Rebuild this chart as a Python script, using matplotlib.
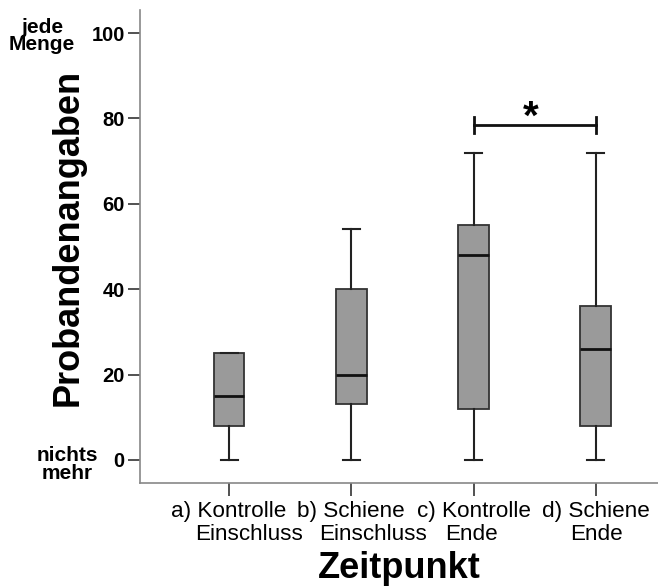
import matplotlib
matplotlib.use('Agg')
import matplotlib.pyplot as plt
from matplotlib.transforms import blended_transform_factory

plt.rcParams['font.family'] = ['Liberation Sans', 'DejaVu Sans']

# five-number summaries
groups = ['a', 'b', 'c', 'd']
whislo = [0, 0, 0, 0]
q1 = [8, 13, 12, 8]
med = [15, 20, 48, 26]
q3 = [25, 40, 55, 36]
whishi = [25, 54, 72, 72]

label_line1 = ['a) Kontrolle', 'b) Schiene', 'c) Kontrolle', 'd) Schiene']
label_line2 = ['Einschluss', 'Einschluss', 'Ende', 'Ende']
line2_shift = [20, 22, -2, 1]   # px, second line not centred in the original

yticks = [0, 20, 40, 60, 80, 100]
sig_pair = (3, 4)
sig_y = 78.5

fig = plt.figure(figsize=(6.58, 5.88), dpi=100)
ax = fig.add_axes([140/658, 1-483/588, 518/658, 473/588])

stats = []
for i in range(len(groups)):
    stats.append({'whislo': whislo[i], 'q1': q1[i], 'med': med[i],
                  'q3': q3[i], 'whishi': whishi[i], 'fliers': []})

ax.bxp(stats, positions=[1, 2, 3, 4], widths=0.25, patch_artist=True,
       showfliers=False,
       boxprops=dict(facecolor='#9a9a9a', edgecolor='#333333', linewidth=1.3),
       medianprops=dict(color='#111111', linewidth=2),
       whiskerprops=dict(color='#222222', linewidth=1.5),
       capprops=dict(color='#222222', linewidth=1.5),
       capwidths=0.14)

ax.set_xlim(0.27, 4.51)
ax.set_ylim(-5.4, 105.4)
ax.set_yticks(yticks)
ax.set_yticklabels([str(v) for v in yticks], fontsize=14.5, fontweight='bold')
ax.set_xticks([1, 2, 3, 4])
ax.set_xticklabels([])
ax.tick_params(axis='both', direction='out', length=9, width=1.2,
               color='#333333', pad=2)

for s in ['top', 'right']:
    ax.spines[s].set_visible(False)
for s in ['left', 'bottom']:
    ax.spines[s].set_color('#888888')
    ax.spines[s].set_linewidth(1.2)

# two-line category labels
for i in range(len(groups)):
    ax.annotate(label_line1[i], xy=(i + 1, 0), xycoords=('data', 'axes fraction'),
                xytext=(0, -28), textcoords='offset pixels',
                ha='center', va='center', fontsize=16.2)
    ax.annotate(label_line2[i], xy=(i + 1, 0), xycoords=('data', 'axes fraction'),
                xytext=(line2_shift[i], -52), textcoords='offset pixels',
                ha='center', va='center', fontsize=16.2)

ax.text(0.5, -0.18, 'Zeitpunkt', transform=ax.transAxes, ha='center', va='center',
        fontsize=26, fontweight='bold')
fig.text(68/658, 1-237/588, 'Probandenangaben', rotation=90, ha='center', va='center',
         fontsize=26, fontweight='bold')

# end labels of the scale
tr = blended_transform_factory(fig.transFigure, ax.transData)
ax.text(42/658, 99.3, 'jede\nMenge', transform=tr, ha='center', va='center',
        fontsize=15, fontweight='bold', linespacing=0.92)
ax.text(67/658, -1, 'nichts\nmehr', transform=tr, ha='center', va='center',
        fontsize=15, fontweight='bold', linespacing=0.92)

# significance bracket
x0, x1 = sig_pair
ax.plot([x0, x1], [sig_y, sig_y], color='#111111', lw=2)
ax.plot([x0, x0], [sig_y - 1.9, sig_y + 1.9], color='#111111', lw=2)
ax.plot([x1, x1], [sig_y - 1.9, sig_y + 1.9], color='#111111', lw=2)
ax.text((x0 + x1) / 2 - 0.03, sig_y - 2.9, '*', ha='center', va='bottom',
        fontsize=29, fontweight='bold')

fig.savefig('out.png', dpi=100)
